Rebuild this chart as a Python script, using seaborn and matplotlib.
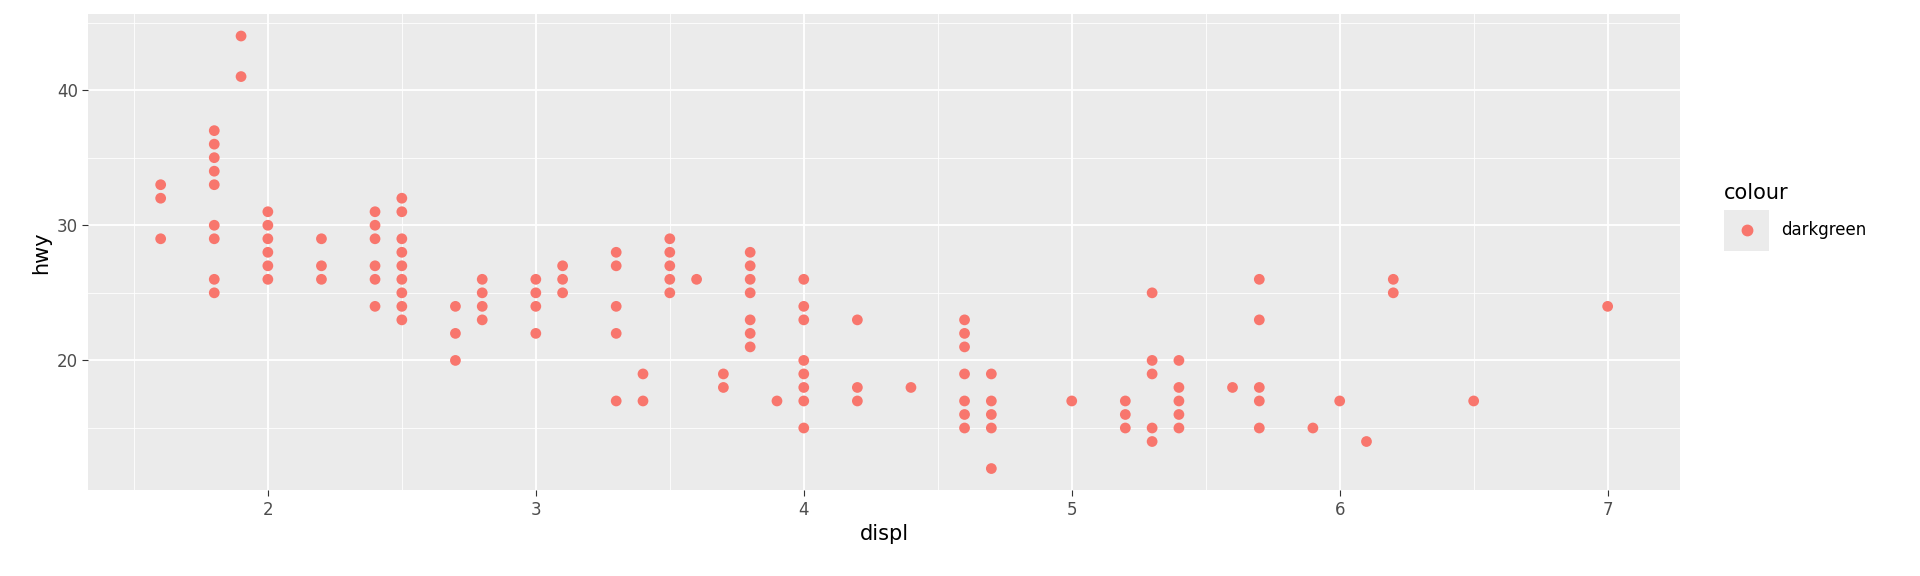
import pandas as pd
import matplotlib.pyplot as plt
import seaborn as sns
from matplotlib.patches import Rectangle

# unique (displ, hwy) pairs
displ_groups = [1.6, 1.8, 1.9, 2.0, 2.2, 2.4, 2.5, 2.7, 2.8, 3.0, 3.1, 3.3, 3.4, 3.5,
                3.6, 3.7, 3.8, 3.9, 4.0, 4.2, 4.4, 4.6, 4.7, 5.0, 5.2, 5.3, 5.4, 5.6,
                5.7, 5.9, 6.0, 6.1, 6.2, 6.5, 7.0]
hwy_groups = [
    [33, 32, 29], [37, 36, 35, 34, 33, 30, 29, 26, 25], [44, 41],
    [31, 30, 29, 28, 27, 26], [29, 27, 26], [31, 30, 29, 27, 26, 24],
    [32, 31, 29, 28, 27, 26, 25, 24, 23], [24, 22, 20], [26, 25, 24, 23],
    [26, 25, 24, 22], [27, 26, 25], [28, 27, 24, 22, 17], [19, 17],
    [29, 28, 27, 26, 25], [26], [19, 18], [28, 27, 26, 25, 23, 22, 21], [17],
    [26, 24, 23, 20, 19, 18, 17, 15], [23, 18, 17], [18],
    [23, 22, 21, 19, 17, 16, 15], [19, 17, 16, 15, 12], [17], [17, 16, 15],
    [25, 20, 19, 15, 14], [20, 18, 17, 16, 15], [18], [26, 23, 18, 17, 15],
    [15], [17], [14], [26, 25], [17], [24],
]

displ = [d for d, hs in zip(displ_groups, hwy_groups) for _ in hs]
hwy = [h for hs in hwy_groups for h in hs]
df = pd.DataFrame({"displ": displ, "hwy": hwy, "colour": "darkgreen"})

fig = plt.figure(figsize=(19.2, 5.76), dpi=100)
ax = fig.add_axes([0.046, 0.149, 0.829, 0.826])
ax.set_facecolor("#EBEBEB")
sns.scatterplot(data=df, x="displ", y="hwy", hue="colour", palette=["#F8766D"],
                s=60, edgecolor="none", ax=ax, zorder=3, legend=False)

ax.set_xlim(1.33, 7.27)
ax.set_ylim(10.4, 45.6)
ax.set_xticks([2, 3, 4, 5, 6, 7])
ax.set_yticks([20, 30, 40])
ax.set_xticks([1.5, 2.5, 3.5, 4.5, 5.5, 6.5], minor=True)
ax.set_yticks([15, 25, 35, 45], minor=True)
ax.grid(which="major", color="white", linewidth=1.3)
ax.grid(which="minor", color="white", linewidth=0.6)
ax.set_axisbelow(True)
for s in ax.spines.values():
    s.set_visible(False)
ax.tick_params(which="major", length=4, color="#333333", labelsize=12, labelcolor="#4D4D4D")
ax.tick_params(which="minor", length=0)
ax.set_xlabel("displ", fontsize=15)
ax.set_ylabel("hwy", fontsize=15)

# manual ggplot-style legend
fig.text(0.898, 0.665, "colour", fontsize=15, va="center")
fig.patches.append(Rectangle((0.898, 0.565), 0.0235, 0.07, transform=fig.transFigure,
                             facecolor="#EBEBEB", edgecolor="none"))
fig.lines.append(plt.Line2D([0.9097], [0.600], transform=fig.transFigure, marker="o",
                            markersize=7.5, color="#F8766D", linestyle="none"))
fig.text(0.9275, 0.600, df["colour"].iloc[0], fontsize=12, va="center")

fig.savefig("out.png", dpi=100, facecolor="white")
